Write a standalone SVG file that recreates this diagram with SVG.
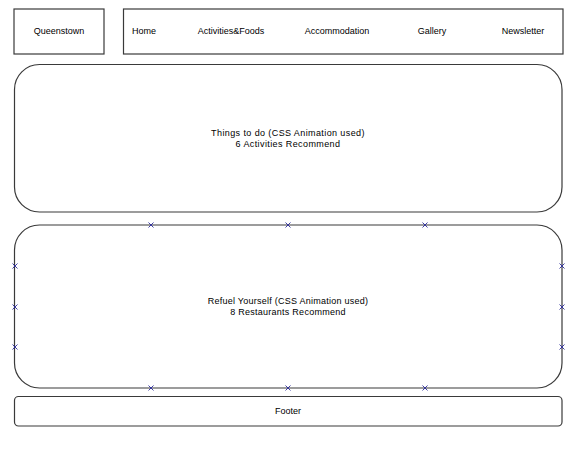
<svg xmlns="http://www.w3.org/2000/svg" width="577" height="451" viewBox="0 0 577 451">
<style>
.box{fill:#fff;stroke:#3a3a3a;stroke-width:1.2}
.t{font-family:"Liberation Sans",Arial,sans-serif;font-size:9px;fill:#000}
.w{letter-spacing:0.4px}
.r{letter-spacing:0.25px}
.m{stroke:#2a2a9a;stroke-width:0.9;fill:none}
</style>
<defs>
<path id="x" class="m" d="M-2.5,-2.5L2.5,2.5M-2.5,2.5L2.5,-2.5"/>
</defs>
<rect width="577" height="451" fill="#fff"/>
<g id="queenstown">
<rect class="box" x="14" y="9" width="90" height="45"/>
<text class="t" x="59" y="34" text-anchor="middle">Queenstown</text>
</g>
<g id="nav">
<rect class="box" x="123.5" y="9" width="439.5" height="45"/>
<text class="t" x="132" y="34">Home</text>
<text class="t" x="231" y="34" text-anchor="middle">Activities&amp;Foods</text>
<text class="t" x="337" y="34" text-anchor="middle">Accommodation</text>
<text class="t" x="432" y="34" text-anchor="middle">Gallery</text>
<text class="t" x="523" y="34" text-anchor="middle">Newsletter</text>
</g>
<g id="things">
<rect class="box" x="14.5" y="64.5" width="547.5" height="147.5" rx="25" ry="25"/>
<text class="t w" x="288" y="136" text-anchor="middle">Things to do (CSS Animation used)</text>
<text class="t w" x="288" y="147" text-anchor="middle">6 Activities Recommend</text>
</g>
<g id="refuel">
<rect class="box" x="14.5" y="225" width="547.5" height="163" rx="25" ry="25"/>
<text class="t r" x="288" y="304" text-anchor="middle">Refuel Yourself (CSS Animation used)</text>
<text class="t r" x="288" y="315" text-anchor="middle">8 Restaurants Recommend</text>
</g>
<g id="footer">
<rect class="box" x="14.5" y="396.5" width="547.5" height="29.5" rx="4" ry="4"/>
<text class="t" x="288" y="414" text-anchor="middle">Footer</text>
</g>
<g id="markers">
<use href="#x" x="151" y="225"/>
<use href="#x" x="288" y="225"/>
<use href="#x" x="425" y="225"/>
<use href="#x" x="151" y="388"/>
<use href="#x" x="288" y="388"/>
<use href="#x" x="425" y="388"/>
<use href="#x" x="15" y="266"/>
<use href="#x" x="15" y="307"/>
<use href="#x" x="15" y="347"/>
<use href="#x" x="562" y="266"/>
<use href="#x" x="562" y="307"/>
<use href="#x" x="562" y="347"/>
</g>
</svg>
